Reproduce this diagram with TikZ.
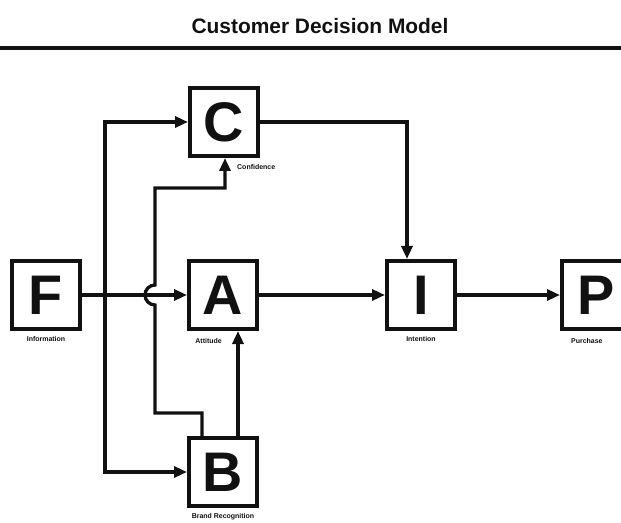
\documentclass[tikz,border=0pt]{standalone}
\usepackage{fontspec}
\setmainfont{Liberation Sans}
\usetikzlibrary{positioning, calc, arrows.meta}
\definecolor{Ink}{HTML}{111111}
\tikzset{
    letterbox/.style={rectangle, draw=Ink, line width=4bp, minimum size=68bp, inner sep=0pt, font=\fontsize{56}{56}\selectfont\bfseries, text=Ink},
    boxlabel/.style={font=\fontsize{7}{8}\selectfont\bfseries, text=Ink, inner sep=1bp},
    flow/.style={-{Triangle[length=13bp, width=11bp]}, line width=3.3bp, color=Ink},
}

\begin{document}
\begin{tikzpicture}[x=1bp, y=-1bp]
    \useasboundingbox (0,0) rectangle (621,523);

    % --- TITLE ---
    \node[font=\fontsize{21}{21}\selectfont\bfseries, text=Ink] (title) at (320,26) {Customer Decision Model};
    \draw[line width=3.5bp, Ink] (0,48) -- (621,48);

    % --- BOXES ---
    \node[letterbox] (F) at (46,295) {F};
    \node[letterbox] (C) at (224,122) {C};
    \node[letterbox] (A) at (223,295) {A};
    \node[letterbox] (I) at (421,295) {I};
    \node[letterbox] (P) at (596,295) {P};
    \node[letterbox] (B) at (223,472) {B};

    % Etichette
    \node[boxlabel, below=4bp of F] (Flab) {Information};
    \node[boxlabel, anchor=north west] (Clab) at ([xshift=12bp, yshift=-5bp]C.south) {Confidence};
    \node[boxlabel, anchor=north east] (Alab) at ([yshift=-6bp]A.south) {Attitude};
    \node[boxlabel, below=4bp of I] (Ilab) {Intention};
    \node[boxlabel, anchor=north west] (Plab) at ([xshift=10bp, yshift=-6bp]P.south west) {Purchase};
    \node[boxlabel, below=4bp of B] (Blab) {Brand Recognition};

    % --- CONNECTORS ---
    \coordinate (fork) at (105,295);
    \draw[flow] (F) -- (A);
    \draw[flow] (fork) |- (C);
    \draw[flow] (fork) |- (B);
    \draw[flow] (A) -- (I);
    \draw[flow] (I) -- (P);
    \draw[flow] (C.east) -| ([xshift=-14bp]I.north);
    \draw[flow] ([xshift=15bp]B.north) -- ([xshift=15bp]A.south);

    % B -> C with hop over F -> A
    \draw[flow] ([xshift=-21bp]B.north) |- (155,413) -- (155,305)
        arc[start angle=270, end angle=90, radius=10bp] -- (155,188) -| ([xshift=1bp]C.south);
\end{tikzpicture}
\end{document}
